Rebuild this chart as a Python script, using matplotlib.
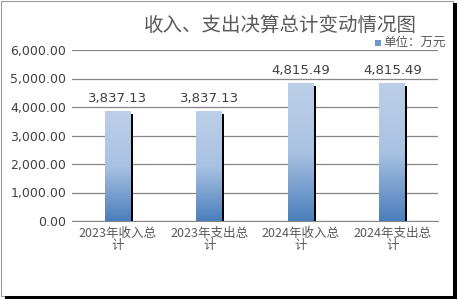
import numpy as np
import matplotlib.pyplot as plt
from matplotlib.patches import Rectangle
from matplotlib.colors import LinearSegmentedColormap

plt.rcParams['font.family'] = ['Noto Sans CJK SC', 'DejaVu Sans']

categories = ['2023年收入总\n计', '2023年支出总\n计', '2024年收入总\n计', '2024年支出总\n计']
values = [3837.13, 3837.13, 4815.49, 4815.49]
yticks = [0, 1000, 2000, 3000, 4000, 5000, 6000]

fig = plt.figure(figsize=(4.59, 3.0), dpi=100)
ax = fig.add_axes([72/459, 1 - 221/300, 366/459, 171/300])

cmap = LinearSegmentedColormap.from_list('bar', ['#4a7ebb', '#a9c2e2', '#bccfe8'])
grad = np.linspace(0, 1, 256).reshape(-1, 1)

x = np.arange(len(values))
w = 0.28
for xi, v in zip(x, values):
    # shadow
    ax.add_patch(Rectangle((xi - w/2 + 0.025, 0), w, v - 70, facecolor='black', edgecolor='none', zorder=2))
    ax.imshow(grad, cmap=cmap, aspect='auto', origin='lower',
              extent=(xi - w/2, xi + w/2, 0, v), zorder=3)
    ax.text(xi, v + 250, f'{v:,.2f}', ha='center', va='bottom', fontsize=9.5,
            color='#404040', family='DejaVu Sans')

ax.set_xlim(-0.5, 3.5)
ax.set_ylim(0, 6000)
ax.set_yticks(yticks)
ax.set_yticklabels([f'{t:,.2f}' for t in yticks], fontsize=9, color='#404040', family='DejaVu Sans')
ax.set_xticks(x)
ax.set_xticklabels(categories, fontsize=9, color='#595959', linespacing=0.95)
ax.tick_params(length=0, pad=4)
ax.yaxis.grid(True, color='#868686', linewidth=0.9)
ax.set_axisbelow(True)
for s in ['top', 'right', 'left']:
    ax.spines[s].set_visible(False)
ax.spines['bottom'].set_color('#868686')

fig.text(0.61, 0.915, '收入、支出决算总计变动情况图', ha='center', va='center',
         fontsize=14, color='#595959')
fig.patches.append(Rectangle((375/459, 1 - 46/300), 6/459, 6/300, transform=fig.transFigure,
                             facecolor='#6f98cf', edgecolor='none'))
fig.text(383/459, 1 - 42/300, '单位：万元', ha='left', va='center', fontsize=9, color='#595959')

# frame with shadow
fig.patches.append(Rectangle((0.002, 0.012), 0.985, 0.985, transform=fig.transFigure,
                             facecolor='none', edgecolor='#9a9a9a', linewidth=0.8))
fig.patches.append(Rectangle((0.987, 0.005), 0.008, 0.985, transform=fig.transFigure,
                             facecolor='black', edgecolor='none'))
fig.patches.append(Rectangle((0.01, 0.003), 0.985, 0.011, transform=fig.transFigure,
                             facecolor='black', edgecolor='none'))

fig.savefig('out.png', dpi=100)
